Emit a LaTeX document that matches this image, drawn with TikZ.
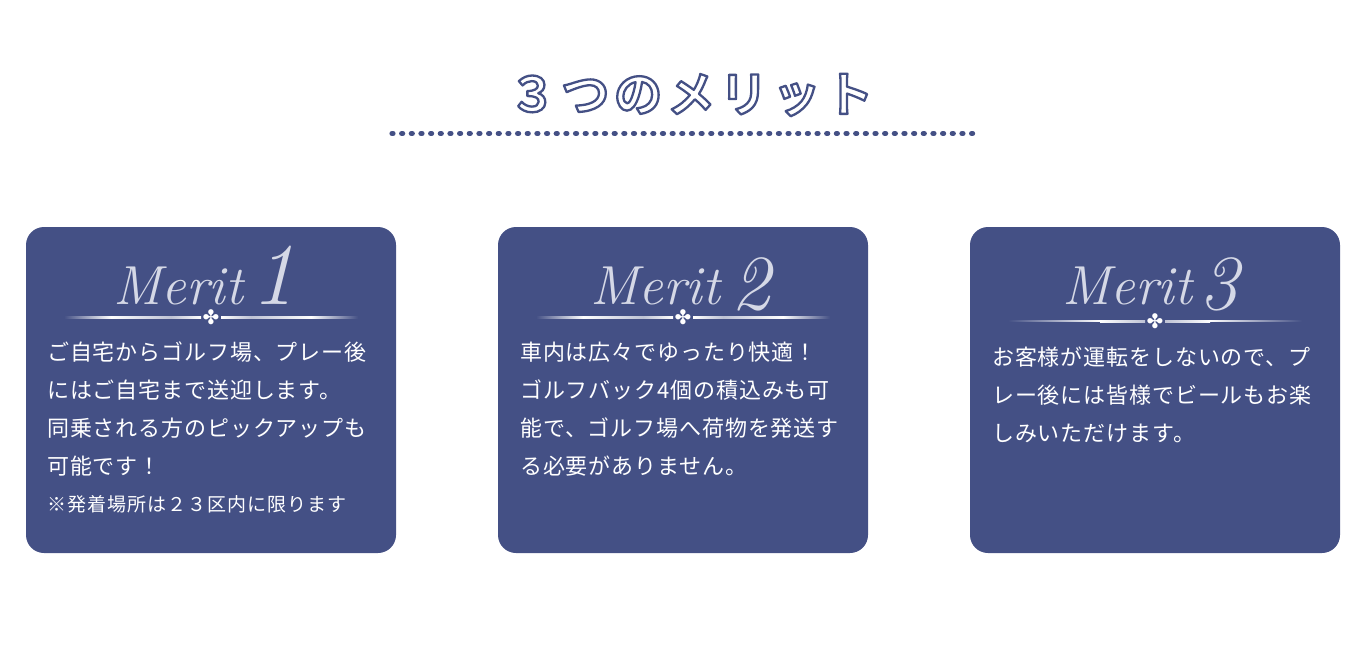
\documentclass[tikz,border=0pt]{standalone}
\usepackage{fontspec}
\newfontfamily\bodyjp[LetterSpace=4]{Noto Sans CJK JP}
\newfontfamily\smalljp[LetterSpace=5.3]{Noto Sans CJK JP}
\newfontfamily\titlejp[LetterSpace=10]{Noto Sans CJK JP Bold}
\newfontfamily\orn{DejaVu Sans}
\definecolor{navy}{HTML}{445085}
\definecolor{scriptw}{HTML}{D5D8E6}
\newcommand{\outlined}[1]{\special{pdf:code q 2 Tr 2.3 w 1 j 0.267 0.314 0.522 RG 1 1 1 rg}#1\special{pdf:code Q}}
\tikzset{
  card/.style={fill=navy,rounded corners=18pt,draw=none},
  body/.style={text=white,anchor=north west,inner sep=0pt,align=left,
    font=\fontsize{22pt}{38pt}\selectfont\bodyjp},
  merit/.style={text=scriptw,anchor=base west,inner sep=0pt,
    font=\fontsize{55pt}{55pt}\selectfont\itshape},
  meritnum/.style={merit,font=\fontsize{#1pt}{#1pt}\selectfont\itshape},
  ornament/.style={text=white,inner sep=0pt,font=\fontsize{20pt}{20pt}\selectfont\orn},
  dots/.style={navy,line width=5.2pt,line cap=round,dash pattern=on 1pt off 8.66pt},
  ttl/.style={inner sep=0pt,anchor=center,font=\fontsize{48pt}{48pt}\selectfont\titlejp}
}
\newcommand{\divider}[2]{% centre x, y : bright outer part, grey middle, bright near the ornament
  \fill[left color=navy,right color=white] (#1-147,#2-.7) rectangle (#1-100,#2+.7);
  \fill[left color=white,right color=white!65!navy] (#1-100,#2-.9) rectangle (#1-40,#2+.9);
  \fill[left color=white!65!navy,right color=white] (#1-40,#2-1) rectangle (#1-10,#2+1);
  \fill[left color=white,right color=white!65!navy] (#1+10,#2-1) rectangle (#1+40,#2+1);
  \fill[left color=white!65!navy,right color=white] (#1+40,#2-.9) rectangle (#1+100,#2+.9);
  \fill[left color=white,right color=navy] (#1+100,#2-.7) rectangle (#1+147,#2+.7);
}
\newcommand{\dividerB}[2]{% centre x, y : bright outer part fading to grey at the ornament
  \fill[left color=navy,right color=white] (#1-147,#2-.7) rectangle (#1-55,#2+.7);
  \fill[left color=white,right color=white!65!navy] (#1-55,#2-1) rectangle (#1-10,#2+1);
  \fill[left color=white!65!navy,right color=white] (#1+10,#2-1) rectangle (#1+55,#2+1);
  \fill[left color=white,right color=navy] (#1+55,#2-.7) rectangle (#1+147,#2+.7);
}
\begin{document}
\begin{tikzpicture}[x=1pt,y=-1pt]
\useasboundingbox (0,0) rectangle (1366,653);
\node[ttl] (title) at (691,95) {\outlined{３つのメリット}};
\coordinate (dotL) at (392,133.5);
\coordinate (dotR) at (973.5,133.5);
\draw[dots] (dotL) -- (dotR);
% cards
\fill[card] (26,227) rectangle (396,553);
\fill[card] (498,227) rectangle (868,553);
\fill[card] (970,227) rectangle (1340,553);
% card 1
\node[merit] (m1) at (113,304) {Merit};
\node[meritnum=88] (d1) at (251,304) {1};
\divider{211}{317.5}
\node[ornament] (o1) at (211,317.5) {✤};
\node[body] (b1) at (47,342) {ご自宅からゴルフ場、プレー後\\にはご自宅まで送迎します。\\同乗される方のピックアップも\\可能です！\\[-1pt]{\fontsize{19pt}{38pt}\selectfont\smalljp ※発着場所は２３区内に限ります}};
% card 2
\node[merit] (m2) at (590,304) {Merit};
\node[meritnum=78] (d2) at (731,309) {2};
\divider{683}{317.5}
\node[ornament] (o2) at (683,317.5) {✤};
\node[body] (b2) at (520,342) {車内は広々でゆったり快適！\\ゴルフバック4個の積込みも可\\能で、ゴルフ場へ荷物を発送す\\る必要がありません。};
% card 3
\node[merit] (m3) at (1062,304) {Merit};
\node[meritnum=78] (d3) at (1199,309) {3};
\dividerB{1155}{321}
\node[ornament] (o3) at (1155,321) {✤};
\node[body] (b3) at (992,347) {お客様が運転をしないので、プ\\レー後には皆様でビールもお楽\\しみいただけます。};
\end{tikzpicture}
\end{document}
